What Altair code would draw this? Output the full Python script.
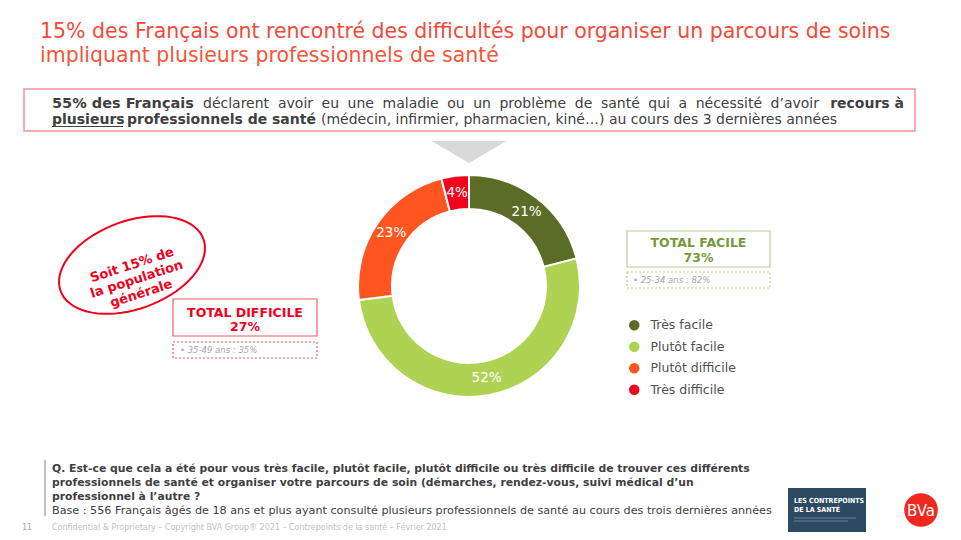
import math
import altair as alt
import pandas as pd

FONT = "DejaVu Sans"
FONT_C = "DejaVu Sans Condensed"

# ---- data ----
categories = ["Très facile", "Plutôt facile", "Plutôt difficile", "Très difficile"]
values = [21, 52, 23, 4]
labels = ["21%", "52%", "23%", "4%"]
colors = ["#5B6C27", "#AED352", "#FF5521", "#F4001C"]

title_lines = [
    "15% des Français ont rencontré des difficultés pour organiser un parcours de soins",
    "impliquant plusieurs professionnels de santé",
]
statement_line1 = "déclarent avoir eu une maladie ou un problème de santé qui a nécessité d’avoir"
question_lines = [
    "Q. Est-ce que cela a été pour vous très facile, plutôt facile, plutôt difficile ou très difficile de trouver ces différents",
    "professionnels de santé et organiser votre parcours de soin (démarches, rendez-vous, suivi médical d’un",
    "professionnel à l’autre ?",
]
base_text = "Base : 556 Français âgés de 18 ans et plus ayant consulté plusieurs professionnels de santé au cours des trois dernières années"
footer_text = "Confidential & Proprietary – Copyright BVA Group® 2021 – Contrepoints de la santé – Février 2021"
total_facile = ["TOTAL FACILE", "73%"]
total_difficile = ["TOTAL DIFFICILE", "27%"]
sub_facile = "• 25-34 ans : 82%"
sub_difficile = "• 35-49 ans : 35%"
stamp_lines = ["Soit 15% de", "la population", "générale"]

df = pd.DataFrame({
    "cat": categories,
    "val": values,
    "label": labels,
    "order": list(range(len(categories))),
})

dummy = alt.Data(values=[{"a": 1}])

CX, CY = 461, 278

# approximate DejaVu Sans advance widths (em) used to justify one text line
EM = {"d": .635, "é": .615, "c": .550, "l": .278, "a": .613, "r": .411, "e": .615,
      "n": .634, "t": .392, "v": .592, "o": .612, "i": .278, "u": .634, "m": .974,
      "p": .635, "b": .635, "è": .615, "s": .521, "q": .635, "’": .318}


def justify(line, x0, x1, size):
    words = line.split(" ")
    widths = [sum(EM.get(ch, .6) for ch in w) * size for w in words]
    gap = (x1 - x0 - sum(widths)) / (len(words) - 1)
    xs, x = [], x0
    for w in widths:
        xs.append(x)
        x += w + gap
    return pd.DataFrame({"w": words, "x": xs})


def txt(s, x, y, size=13, color="#404040", bold=False, italic=False,
        align="left", angle=0, baseline="alphabetic", lineHeight=None, font=FONT):
    kw = dict(align=align, baseline=baseline, font=font, fontSize=size,
              fontWeight="bold" if bold else "normal",
              fontStyle="italic" if italic else "normal",
              color=color, angle=angle)
    if lineHeight is not None:
        kw["lineHeight"] = lineHeight
    return alt.Chart(dummy).mark_text(**kw).encode(
        x=alt.value(x), y=alt.value(y), text=alt.value(s))


def box(x1, y1, x2, y2, stroke, width=1.0, dash=None, fill="white", fillOpacity=0.0):
    kw = dict(stroke=stroke, strokeWidth=width, fill=fill, fillOpacity=fillOpacity)
    if dash is not None:
        kw["strokeDash"] = dash
    return alt.Chart(dummy).mark_rect(**kw).encode(
        x=alt.value(x1), x2=alt.value(x2), y=alt.value(y1), y2=alt.value(y2))


def rule(x1, y1, x2, y2, color, width=1.0):
    return alt.Chart(dummy).mark_rule(color=color, strokeWidth=width).encode(
        x=alt.value(x1), x2=alt.value(x2), y=alt.value(y1), y2=alt.value(y2))


layers = []

# Title
layers.append(txt(title_lines[0], 32, 30, size=20.5, color="#F24A3A"))
layers.append(txt(title_lines[1], 32, 54, size=20.5, color="#F4563A"))

# Top framed statement
layers.append(box(16, 81, 907, 123, "#F2959B", width=1.5))
layers.append(txt("55% des Français", 44, 100, size=14.5, bold=True))
layers.append(alt.Chart(justify(statement_line1, 195, 811, 14)).mark_text(
    align="left", baseline="alphabetic", font=FONT, fontSize=14, color="#404040").encode(
    x=alt.X("x:Q", scale=None), y=alt.value(100), text="w:N"))
layers.append(txt("recours à", 896, 100, size=14, bold=True, align="right"))
layers.append(txt("plusieurs", 44, 116, size=14, bold=True))
layers.append(rule(44, 118.5, 115, 118.5, "#404040", 1))
layers.append(txt("professionnels de santé", 119, 116, size=14, bold=True))
layers.append(txt("(médecin, infirmier, pharmacien, kiné…) au cours des 3 dernières années",
                  313, 116, size=14))

# grey arrow
layers.append(alt.Chart(dummy).mark_point(
    shape="M -1 -0.293 L 1 -0.293 L 0 0.293 Z", filled=True, fill="#D9D9D9",
    opacity=1, size=5625, strokeWidth=0).encode(x=alt.value(CX), y=alt.value(144)))

# Donut
donut = alt.Chart(df).mark_arc(innerRadius=77, outerRadius=111, stroke="white",
                               strokeWidth=2).encode(
    theta=alt.Theta("val:Q", stack=True),
    color=alt.Color("cat:N", scale=alt.Scale(domain=categories, range=colors),
                    sort=categories,
                    legend=alt.Legend(title=None, orient="none", legendX=620, legendY=311,
                                      symbolType="circle", symbolSize=110,
                                      symbolStrokeWidth=0,
                                      labelFont=FONT, labelFontSize=12.5,
                                      labelColor="#505050", labelOffset=10,
                                      rowPadding=8.5, padding=0)),
    order=alt.Order("order:Q"),
    x=alt.value(CX), y=alt.value(CY),
)
donut_labels = alt.Chart(df).mark_text(radius=94, color="white", font=FONT,
                                       fontSize=13.5).encode(
    theta=alt.Theta("val:Q", stack=True),
    text="label:N",
    order=alt.Order("order:Q"),
    x=alt.value(CX), y=alt.value(CY),
)
layers.append(donut)
layers.append(donut_labels)

# TOTAL FACILE
GREEN_T = "#77993A"
layers.append(box(619, 223, 762, 259, "#B8CF92", width=1.2))
layers.append(txt(total_facile[0], 690.5, 239, size=12.5, bold=True, color=GREEN_T, align="center"))
layers.append(txt(total_facile[1], 690.5, 254, size=12.5, bold=True, color=GREEN_T, align="center"))
layers.append(box(619, 264, 762, 280, "#B8CF92", width=1.2, dash=[2, 2]))
layers.append(txt(sub_facile, 625, 275, size=8.5, italic=True, color="#A6A6A6"))

# TOTAL DIFFICILE
RED = "#F2001C"
layers.append(box(165, 291, 309, 328, "#F25A66", width=1.2))
layers.append(txt(total_difficile[0], 237, 309, size=12.5, bold=True, color=RED, align="center"))
layers.append(txt(total_difficile[1], 237, 323, size=12.5, bold=True, color=RED, align="center"))
layers.append(box(165, 334, 309, 350, "#F25A66", width=1.2, dash=[2, 2]))
layers.append(txt(sub_difficile, 172, 345, size=8.5, italic=True, color="#A6A6A6"))

# Stamp ellipse
pts = []
for i in range(73):
    t = 2 * math.pi * i / 72
    pts.append((math.cos(t), math.sin(t) * 44 / 76))
ell_path = "M " + " L ".join(f"{x:.4f} {y:.4f}" for x, y in pts) + " Z"
layers.append(alt.Chart(dummy).mark_point(
    shape=ell_path, filled=False, stroke=RED, strokeWidth=2, opacity=1,
    size=(2 * 76) ** 2, angle=340).encode(x=alt.value(124), y=alt.value(257)))
layers.append(txt(stamp_lines, 124, 257, size=13, bold=True, color=RED, align="center",
                  baseline="middle", angle=342, lineHeight=15))

# Bottom question
layers.append(rule(37, 452, 37, 508, "#808080", 1))
for i, line in enumerate(question_lines):
    layers.append(txt(line, 44, 464 + 14 * i, size=10.8, bold=True, color="#404040"))
layers.append(txt(base_text, 44, 506, size=11.2, color="#404040"))
layers.append(txt("11", 14, 522, size=8, color="#A6A6A6"))
layers.append(txt(footer_text, 44, 522, size=8, color="#BFBFBF"))

# Logos
layers.append(box(780, 480, 858, 524, "#2D4A63", width=0, fill="#2D4A63", fillOpacity=1))
layers.append(txt("LES CONTREPOINTS", 786, 495, size=7, bold=True, color="white", font=FONT_C))
layers.append(txt("DE LA SANTÉ", 786, 504, size=7, bold=True, color="white", font=FONT_C))
layers.append(rule(786, 510, 848, 510, "#8FA3B5", 0.6))
layers.append(rule(786, 513, 840, 513, "#8FA3B5", 0.6))
layers.append(alt.Chart(dummy).mark_point(
    shape="circle", filled=True, fill="#F0281E", opacity=1, size=1130,
    strokeWidth=0).encode(x=alt.value(913), y=alt.value(502)))
layers.append(txt("BVa", 913, 503, size=15, color="white", align="center", baseline="middle"))

chart = alt.layer(*layers).properties(
    width=945, height=524,
    autosize=alt.AutoSizeParams(type="none"),
    padding=0,
).configure_view(stroke=None)

chart.save("out.html", embed_options={"renderer": "svg", "actions": False})
